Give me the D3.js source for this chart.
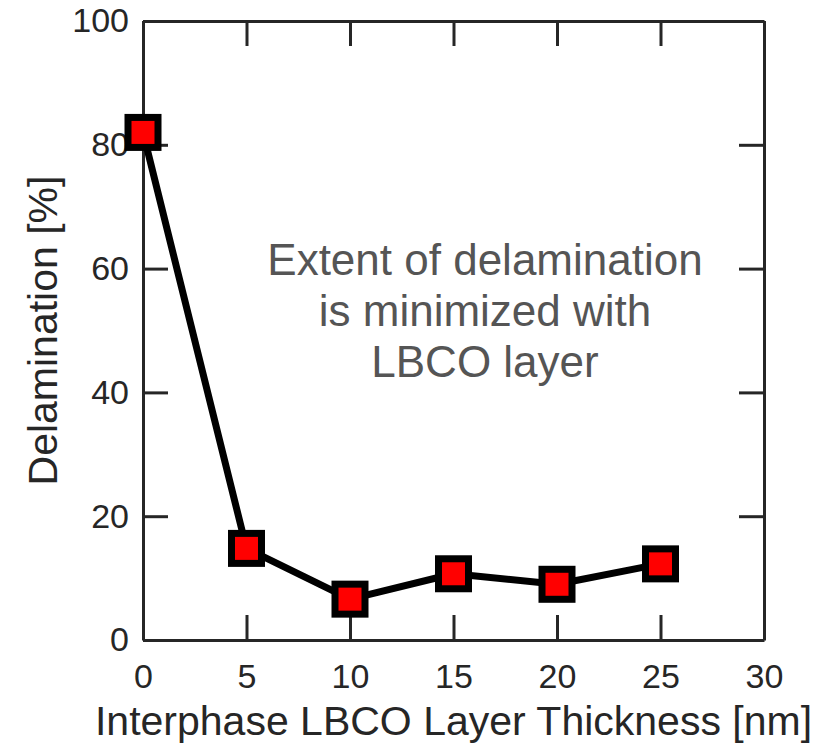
<!DOCTYPE html>
<html>
<head>
<meta charset="utf-8">
<script src="https://cdn.jsdelivr.net/npm/d3@7"></script>
<style>
  body { margin: 0; background: #fff; }
  text { font-family: "Liberation Sans", Arial, Helvetica, sans-serif; }
</style>
</head>
<body>
<svg id="chart" width="835" height="747"></svg>
<script>
// data
const thickness = [0, 5, 10, 15, 20, 25];
const delamination = [82.0, 14.8, 6.6, 10.7, 9.0, 12.3];
const xTicks = [0, 5, 10, 15, 20, 25, 30];
const yTicks = [0, 20, 40, 60, 80, 100];
const noteLines = ["Extent of delamination", "is minimized with", "LBCO layer"];

const width = 835, height = 747;
const margin = { top: 21, right: 71, bottom: 107, left: 143 };
const innerW = width - margin.left - margin.right;
const innerH = height - margin.top - margin.bottom;
const axisColor = "#262626";
const tickLen = 25;

const svg = d3.select("#chart");
const chart = svg.append("g")
    .attr("transform", `translate(${margin.left}, ${margin.top})`);

const xscale = d3.scaleLinear().domain([0, 30]).range([0, innerW]);
const yscale = d3.scaleLinear().domain([0, 100]).range([innerH, 0]);

function styleAxis(g) {
    g.select(".domain").attr("stroke", axisColor).attr("stroke-width", 3);
    g.selectAll(".tick line").attr("stroke", axisColor).attr("stroke-width", 3);
    g.selectAll(".tick text").attr("fill", axisColor).style("font-size", "34px");
}

// bottom axis
chart.append("g")
    .attr("transform", `translate(0, ${innerH})`)
    .call(d3.axisBottom(xscale).tickValues(xTicks).tickSizeInner(-tickLen).tickSizeOuter(0).tickPadding(24))
    .call(styleAxis);

// top axis (ticks only)
chart.append("g")
    .call(d3.axisTop(xscale).tickValues(xTicks).tickSizeInner(-tickLen).tickSizeOuter(0).tickFormat(""))
    .call(styleAxis);

// left axis
chart.append("g")
    .call(d3.axisLeft(yscale).tickValues(yTicks).tickSizeInner(-tickLen).tickSizeOuter(0).tickPadding(14))
    .call(styleAxis);

// right axis (ticks only)
chart.append("g")
    .attr("transform", `translate(${innerW}, 0)`)
    .call(d3.axisRight(yscale).tickValues(yTicks).tickSizeInner(-tickLen).tickSizeOuter(0).tickFormat(""))
    .call(styleAxis);

chart.selectAll(".tick line").filter(function () {
    // remove ticks that sit exactly on the frame corners
    return false;
});

// axis labels
svg.append("text")
    .attr("x", margin.left + innerW / 2)
    .attr("y", 735)
    .attr("text-anchor", "middle")
    .attr("fill", axisColor)
    .style("font-size", "41px")
    .text("Interphase LBCO Layer Thickness [nm]");

svg.append("text")
    .attr("transform", `translate(57, ${margin.top + innerH / 2}) rotate(-90)`)
    .attr("text-anchor", "middle")
    .attr("fill", axisColor)
    .style("font-size", "41px")
    .text("Delamination [%]");

// annotation
svg.append("text")
    .attr("text-anchor", "middle")
    .attr("fill", "#555555")
    .style("font-size", "44px")
    .selectAll("tspan")
    .data(noteLines)
    .enter()
    .append("tspan")
    .attr("x", 485)
    .attr("y", (d, i) => 275 + i * 51)
    .text(d => d);

// data line and markers
const points = thickness.map((t, i) => ({ x: t, y: delamination[i] }));

chart.append("path")
    .datum(points)
    .attr("fill", "none")
    .attr("stroke", "#000")
    .attr("stroke-width", 7)
    .attr("stroke-linejoin", "round")
    .attr("d", d3.line().x(d => xscale(d.x)).y(d => yscale(d.y)));

const side = 30;
chart.selectAll("rect.marker")
    .data(points)
    .enter()
    .append("rect")
    .attr("class", "marker")
    .attr("x", d => xscale(d.x) - side / 2)
    .attr("y", d => yscale(d.y) - side / 2)
    .attr("width", side)
    .attr("height", side)
    .attr("fill", "#ff0000")
    .attr("stroke", "#000")
    .attr("stroke-width", 7);
</script>
</body>
</html>
